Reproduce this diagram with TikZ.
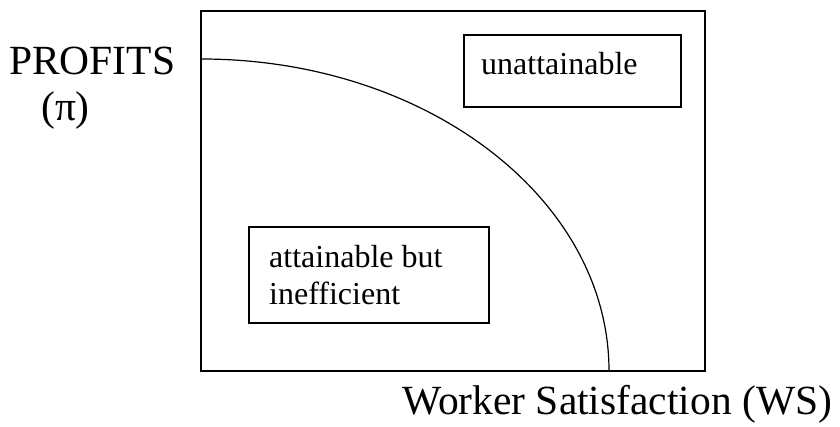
\documentclass[tikz,border=0pt]{standalone}
\usepackage{fontspec}
\setmainfont{LiberationSerif}[Extension=.ttf,UprightFont=*-Regular]
\usepackage{tikz}

\begin{document}
\begin{tikzpicture}[x=1pt,y=1pt,
    axislabel/.style={font=\fontsize{41.5}{48}\selectfont,inner sep=0pt},
    regionlabel/.style={font=\fontsize{32}{37}\selectfont,inner sep=0pt,align=left},
    boxline/.style={line width=1.5pt}]
        \useasboundingbox (0,0) rectangle (840,427);
        \draw[boxline] (201,56) rectangle (705,416);
        \draw[line width=1.2pt] (201,368) arc[start angle=90,end angle=0,x radius=408,y radius=312];
        \draw[boxline] (464,320) rectangle (681,392);
        \node[regionlabel,anchor=base west] (unatt) at (481,352) {unattainable};
        \draw[boxline] (249,104) rectangle (489,200);
        \node[regionlabel,anchor=north west] (ineff) at (269,182) {attainable but\\inefficient};
        \node[axislabel,anchor=base west] (profits) at (9,352) {PROFITS};
        \node[axislabel,anchor=base west] (pilabel) at (41,306) {(π)};
        \node[axislabel,anchor=base west] (wslabel) at (402,12) {Worker Satisfaction (WS)};
\end{tikzpicture}
\end{document}
